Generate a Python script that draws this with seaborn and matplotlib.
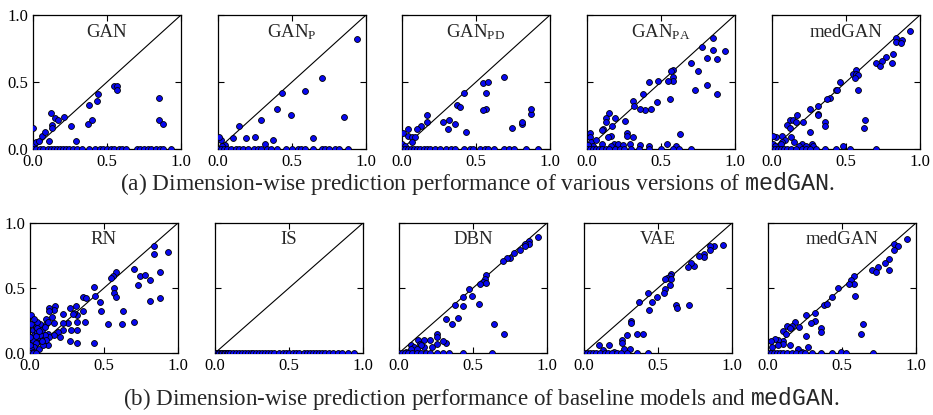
import matplotlib
matplotlib.use('Agg')
import pandas as pd
import matplotlib.pyplot as plt
import seaborn as sns

# Panel data: off-axis points (x = real, y = synthetic) and x of points lying on y = 0
gan_x = [0.0, 0.01, 0.02, 0.04, 0.06, 0.08, 0.11, 0.12, 0.13, 0.13, 0.15, 0.17, 0.21, 0.26, 0.29,
         0.37, 0.38, 0.40, 0.43, 0.44, 0.55, 0.57, 0.57, 0.85, 0.85, 0.88]
gan_y = [0.16, 0.04, 0.05, 0.06, 0.10, 0.13, 0.06, 0.27, 0.18, 0.16, 0.23, 0.22, 0.24, 0.17, 0.06,
         0.19, 0.33, 0.22, 0.36, 0.41, 0.47, 0.47, 0.44, 0.38, 0.22, 0.19]
gan_zero = [0.0, 0.02, 0.05, 0.07, 0.10, 0.12, 0.14, 0.16, 0.18, 0.20, 0.22, 0.24, 0.27, 0.30, 0.33,
            0.38, 0.42, 0.45, 0.47, 0.50, 0.53, 0.55, 0.58, 0.60, 0.63, 0.70, 0.72, 0.75, 0.78,
            0.80, 0.83, 0.86, 0.88, 0.93]

ganp_x = [0.94, 0.70, 0.59, 0.43, 0.40, 0.49, 0.29, 0.14, 0.85, 0.64, 0.37, 0.32, 0.25, 0.19,
          0.10, 0.02, 0.01, 0.05, 0.03]
ganp_y = [0.82, 0.53, 0.43, 0.42, 0.30, 0.25, 0.22, 0.17, 0.24, 0.08, 0.07, 0.04, 0.09, 0.08,
          0.08, 0.07, 0.09, 0.03, 0.02]
ganp_zero = [0.0, 0.02, 0.04, 0.06, 0.09, 0.12, 0.14, 0.17, 0.20, 0.24, 0.27, 0.29, 0.33, 0.36,
             0.40, 0.46, 0.50, 0.54, 0.56, 0.59, 0.64, 0.70, 0.72, 0.75, 0.79, 0.82, 0.88]

ganpd_x = [0.69, 0.55, 0.58, 0.57, 0.57, 0.55, 0.42, 0.37, 0.39, 0.17, 0.17, 0.13, 0.10, 0.04,
           0.01, 0.04, 0.07, 0.09, 0.07, 0.28, 0.32, 0.31, 0.36, 0.43, 0.74, 0.81, 0.81, 0.87,
           0.87, 0.0, 0.02]
ganpd_y = [0.54, 0.49, 0.50, 0.42, 0.30, 0.29, 0.42, 0.33, 0.31, 0.25, 0.20, 0.17, 0.15, 0.15,
           0.12, 0.10, 0.09, 0.09, 0.05, 0.20, 0.22, 0.15, 0.19, 0.13, 0.16, 0.19, 0.20, 0.26,
           0.30, 0.04, 0.02]
ganpd_zero = [0.0, 0.02, 0.04, 0.06, 0.08, 0.10, 0.12, 0.15, 0.17, 0.19, 0.22, 0.26, 0.30, 0.33,
              0.36, 0.42, 0.46, 0.48, 0.53, 0.56, 0.58, 0.62, 0.69, 0.72, 0.76, 0.84, 0.92]

ganpa_x = [0.85, 0.78, 0.85, 0.93, 0.81, 0.88, 0.70, 0.75, 0.58, 0.57, 0.58, 0.58, 0.55, 0.48,
           0.42, 0.73, 0.81, 0.88, 0.56, 0.47, 0.43, 0.39, 0.36, 0.38, 0.31, 0.32, 0.26, 0.19,
           0.15, 0.13, 0.13, 0.11, 0.10, 0.17, 0.16, 0.14, 0.27, 0.27, 0.31, 0.63, 0.54, 0.60,
           0.02, 0.02, 0.03, 0.06, 0.10, 0.18, 0.21, 0.24, 0.29, 0.36, 0.42, 0.04, 0.01, 0.16]
ganpa_y = [0.83, 0.76, 0.74, 0.73, 0.68, 0.67, 0.64, 0.58, 0.59, 0.58, 0.54, 0.51, 0.51, 0.51,
           0.50, 0.44, 0.48, 0.41, 0.37, 0.35, 0.30, 0.29, 0.30, 0.41, 0.36, 0.32, 0.21, 0.23,
           0.27, 0.23, 0.20, 0.15, 0.14, 0.17, 0.10, 0.09, 0.12, 0.10, 0.09, 0.11, 0.04, 0.02,
           0.12, 0.09, 0.05, 0.07, 0.04, 0.04, 0.04, 0.03, 0.04, 0.03, 0.02, 0.02, 0.03, 0.02]
ganpa_zero = [0.0, 0.02, 0.04, 0.06, 0.08, 0.10, 0.13, 0.15, 0.19, 0.22, 0.25, 0.30, 0.35, 0.42,
              0.50, 0.58, 0.62, 0.70]

med1_x = [0.93, 0.84, 0.84, 0.88, 0.87, 0.82, 0.77, 0.74, 0.81, 0.70, 0.73, 0.57, 0.55, 0.57,
          0.58, 0.56, 0.46, 0.43, 0.44, 0.39, 0.37, 0.58, 0.31, 0.26, 0.31, 0.31, 0.21, 0.17,
          0.12, 0.14, 0.16, 0.10, 0.12, 0.36, 0.36, 0.26, 0.63, 0.62, 0.13, 0.07, 0.03, 0.01,
          0.09, 0.07, 0.06, 0.15, 0.20, 0.18, 0.23, 0.27, 0.28, 0.48, 0.01, 0.02]
med1_y = [0.88, 0.83, 0.80, 0.81, 0.79, 0.71, 0.69, 0.66, 0.64, 0.64, 0.62, 0.59, 0.56, 0.56,
          0.55, 0.53, 0.50, 0.44, 0.44, 0.38, 0.37, 0.44, 0.32, 0.30, 0.26, 0.25, 0.20, 0.25,
          0.22, 0.22, 0.20, 0.18, 0.16, 0.20, 0.17, 0.13, 0.22, 0.16, 0.09, 0.10, 0.09, 0.10,
          0.07, 0.05, 0.04, 0.05, 0.04, 0.02, 0.02, 0.04, 0.02, 0.02, 0.04, 0.02]
med1_zero = [0.0, 0.02, 0.04, 0.06, 0.08, 0.10, 0.13, 0.16, 0.20, 0.23, 0.26, 0.30, 0.36, 0.43,
             0.53, 0.70]

rn_x = [0.84, 0.84, 0.93, 0.70, 0.74, 0.78, 0.73, 0.81, 0.88, 0.88, 0.81, 0.58, 0.56, 0.55,
        0.57, 0.57, 0.58, 0.43, 0.36, 0.38, 0.44, 0.47, 0.48, 0.36, 0.37, 0.31, 0.32, 0.32,
        0.30, 0.27, 0.29, 0.63, 0.53, 0.62, 0.70, 0.43, 0.32, 0.27, 0.26, 0.22, 0.22, 0.22,
        0.28, 0.32, 0.19, 0.20, 0.17, 0.16, 0.13, 0.13, 0.15, 0.16, 0.11, 0.11, 0.09, 0.08,
        0.12, 0.16, 0.13, 0.12, 0.07, 0.01, 0.01, 0.02, 0.03, 0.02, 0.04, 0.05, 0.06, 0.04,
        0.07, 0.08, 0.05, 0.09, 0.10, 0.03, 0.01, 0.06, 0.02, 0.09, 0.11, 0.0, 0.0, 0.07,
        0.03, 0.10, 0.12, 0.05, 0.08, 0.04, 0.06]
rn_y = [0.82, 0.76, 0.78, 0.65, 0.59, 0.60, 0.52, 0.56, 0.62, 0.42, 0.40, 0.62, 0.59, 0.58,
        0.50, 0.46, 0.43, 0.51, 0.43, 0.42, 0.44, 0.39, 0.32, 0.32, 0.24, 0.36, 0.29, 0.24,
        0.31, 0.35, 0.30, 0.32, 0.22, 0.22, 0.24, 0.08, 0.08, 0.09, 0.23, 0.23, 0.30, 0.18,
        0.18, 0.18, 0.16, 0.12, 0.36, 0.33, 0.35, 0.32, 0.28, 0.23, 0.26, 0.22, 0.19, 0.15,
        0.15, 0.14, 0.12, 0.06, 0.10, 0.29, 0.22, 0.18, 0.14, 0.10, 0.20, 0.16, 0.12, 0.08,
        0.22, 0.18, 0.24, 0.11, 0.14, 0.05, 0.03, 0.03, 0.01, 0.06, 0.10, 0.12, 0.06, 0.14,
        0.26, 0.20, 0.24, 0.19, 0.09, 0.13, 0.17]
rn_zero = [0.0, 0.02, 0.04]

is_x = []
is_y = []
is_zero = [0.0, 0.01, 0.02, 0.03, 0.04, 0.05, 0.06, 0.07, 0.08, 0.09, 0.10, 0.12, 0.14, 0.16,
           0.18, 0.20, 0.22, 0.24, 0.26, 0.28, 0.30, 0.32, 0.34, 0.36, 0.38, 0.40, 0.43, 0.46,
           0.48, 0.50, 0.53, 0.55, 0.57, 0.60, 0.62, 0.64, 0.66, 0.68, 0.70, 0.72, 0.74, 0.77,
           0.80, 0.83, 0.86, 0.90, 0.94]

dbn_x = [0.94, 0.88, 0.88, 0.85, 0.85, 0.82, 0.78, 0.75, 0.73, 0.70, 0.59, 0.58, 0.57, 0.55,
         0.59, 0.47, 0.49, 0.43, 0.43, 0.38, 0.54, 0.40, 0.36, 0.32, 0.64, 0.71, 0.26, 0.26,
         0.32, 0.30, 0.26, 0.21, 0.17, 0.22, 0.17, 0.13, 0.14, 0.15, 0.08, 0.10, 0.08, 0.05, 0.12]
dbn_y = [0.89, 0.86, 0.84, 0.84, 0.82, 0.79, 0.77, 0.73, 0.73, 0.71, 0.60, 0.57, 0.55, 0.53,
         0.54, 0.49, 0.44, 0.43, 0.36, 0.37, 0.38, 0.27, 0.22, 0.26, 0.22, 0.15, 0.15, 0.12,
         0.08, 0.09, 0.07, 0.10, 0.10, 0.05, 0.05, 0.10, 0.07, 0.06, 0.06, 0.05, 0.03, 0.01, 0.03]
dbn_zero = [0.0, 0.02, 0.04, 0.06, 0.09, 0.12, 0.15, 0.18, 0.21, 0.26, 0.30, 0.34, 0.43, 0.63]

vae_x = [0.94, 0.88, 0.85, 0.85, 0.81, 0.81, 0.78, 0.74, 0.72, 0.70, 0.59, 0.58, 0.56, 0.59,
         0.55, 0.58, 0.55, 0.54, 0.43, 0.49, 0.46, 0.37, 0.44, 0.62, 0.63, 0.71, 0.32, 0.32,
         0.40, 0.36, 0.29, 0.26, 0.26, 0.17, 0.10, 0.13, 0.27, 0.31, 0.20]
vae_y = [0.83, 0.82, 0.82, 0.79, 0.76, 0.74, 0.75, 0.67, 0.69, 0.66, 0.61, 0.59, 0.58, 0.57,
         0.57, 0.52, 0.49, 0.46, 0.46, 0.43, 0.39, 0.39, 0.33, 0.37, 0.35, 0.37, 0.25, 0.23,
         0.15, 0.15, 0.14, 0.10, 0.08, 0.06, 0.06, 0.02, 0.03, 0.03, 0.01]
vae_zero = [0.0, 0.02, 0.04, 0.06, 0.08, 0.11, 0.14, 0.16, 0.19, 0.22, 0.25, 0.29, 0.36, 0.43]

med2_x = [0.94, 0.85, 0.88, 0.85, 0.82, 0.79, 0.74, 0.70, 0.73, 0.82, 0.58, 0.56, 0.58, 0.55,
          0.47, 0.59, 0.43, 0.38, 0.40, 0.32, 0.26, 0.32, 0.29, 0.36, 0.36, 0.64, 0.63, 0.26,
          0.18, 0.16, 0.13, 0.15, 0.21, 0.10, 0.12, 0.10, 0.07, 0.05, 0.02, 0.10, 0.07, 0.15,
          0.03, 0.20, 0.27, 0.49, 0.23]
med2_y = [0.88, 0.84, 0.82, 0.79, 0.72, 0.69, 0.66, 0.64, 0.62, 0.64, 0.59, 0.56, 0.53, 0.53,
          0.50, 0.44, 0.43, 0.37, 0.38, 0.31, 0.29, 0.25, 0.23, 0.19, 0.16, 0.22, 0.15, 0.13,
          0.24, 0.21, 0.21, 0.19, 0.20, 0.17, 0.15, 0.09, 0.10, 0.11, 0.09, 0.07, 0.06, 0.06,
          0.05, 0.03, 0.05, 0.01, 0.01]
med2_zero = [0.0, 0.02, 0.04, 0.06, 0.08, 0.10, 0.13, 0.16, 0.19, 0.22, 0.25, 0.30, 0.36, 0.43,
             0.53, 0.71]

row_a = [('GAN', gan_x, gan_y, gan_zero),
         ('GAN$_{\\mathrm{P}}$', ganp_x, ganp_y, ganp_zero),
         ('GAN$_{\\mathrm{PD}}$', ganpd_x, ganpd_y, ganpd_zero),
         ('GAN$_{\\mathrm{PA}}$', ganpa_x, ganpa_y, ganpa_zero),
         ('medGAN', med1_x, med1_y, med1_zero)]
row_b = [('RN', rn_x, rn_y, rn_zero),
         ('IS', is_x, is_y, is_zero),
         ('DBN', dbn_x, dbn_y, dbn_zero),
         ('VAE', vae_x, vae_y, vae_zero),
         ('medGAN', med2_x, med2_y, med2_zero)]

sns.set_style('ticks')
plt.rcParams['font.family'] = ['Liberation Serif', 'DejaVu Serif']
plt.rcParams['mathtext.fontset'] = 'custom'
plt.rcParams['mathtext.rm'] = 'Liberation Serif'
plt.rcParams['mathtext.it'] = 'Liberation Serif:italic'
plt.rcParams['mathtext.tt'] = 'Liberation Mono'

W, H = 933, 415
fig = plt.figure(figsize=(W / 100, H / 100), dpi=100)


def draw_panel(ax, title, xs, ys, zeros, show_y):
    df = pd.DataFrame({'real': list(xs) + list(zeros),
                       'synthetic': list(ys) + [0.0] * len(zeros)})
    ax.axline((0, 0), (1, 1), color='black', lw=0.8, zorder=1)
    sns.scatterplot(data=df, x='real', y='synthetic', ax=ax, color='#0808f0',
                    edgecolor='black', linewidth=0.6, s=18, zorder=3)
    ax.set_xlim(0, 1)
    ax.set_ylim(0, 1)
    ax.set_xticks([0, 0.5, 1])
    ax.set_yticks([0, 0.5, 1])
    ax.set_xticklabels(['0.0', '0.5', '1.0'])
    ax.set_yticklabels(['0.0', '0.5', '1.0'] if show_y else [])
    ax.set_xlabel('')
    ax.set_ylabel('')
    ax.tick_params(direction='in', top=True, right=True, length=4, width=0.8,
                   labelsize=12, colors='black')
    for sp in ax.spines.values():
        sp.set_linewidth(0.9)
        sp.set_color('black')
    ax.text(0.5, 0.87, title, transform=ax.transAxes, ha='center', va='center',
            fontsize=13.5)


lefts_a = [33, 218, 402, 587, 772]
lefts_b = [30, 215, 399, 584, 768]
pw = 148

for i, (title, xs, ys, zeros) in enumerate(row_a):
    ax = fig.add_axes([lefts_a[i] / W, 1 - 149 / H, pw / W, 134 / H])
    draw_panel(ax, title, xs, ys, zeros, i == 0)

for i, (title, xs, ys, zeros) in enumerate(row_b):
    ax = fig.add_axes([lefts_b[i] / W, 1 - 353 / H, pw / W, 130 / H])
    draw_panel(ax, title, xs, ys, zeros, i == 0)

fig.text(477 / W, 1 - 183 / H,
         '(a) Dimension-wise prediction performance of various versions of $\\mathtt{medGAN}$.',
         ha='center', va='center', fontsize=16.8)
fig.text(481 / W, 1 - 398 / H,
         '(b) Dimension-wise prediction performance of baseline models and $\\mathtt{medGAN}$.',
         ha='center', va='center', fontsize=16.6)

fig.savefig('out.png', dpi=100, facecolor='white')
